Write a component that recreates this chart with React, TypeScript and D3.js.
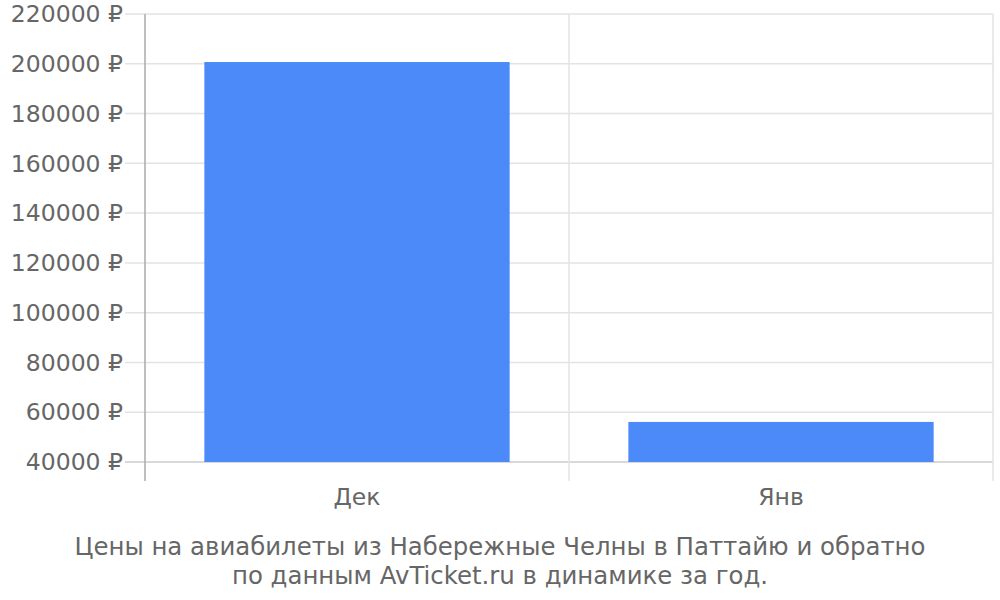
import * as d3 from "d3";
import { useEffect, useRef } from "react";

const months = ["Дек", "Янв"];
const prices = [200700, 56100];
const yTicks = [40000, 60000, 80000, 100000, 120000, 140000, 160000, 180000, 200000, 220000];
const titleLines = [
  "Цены на авиабилеты из Набережные Челны в Паттайю и обратно",
  "по данным AvTicket.ru в динамике за год.",
];

export default function App() {
  const ref = useRef<SVGSVGElement>(null);

  useEffect(() => {
    const svg = d3.select(ref.current);
    svg.selectAll("*").remove();

    const width = 1000;
    const height = 600;
    const left = 145;
    const right = 993;
    const top = 14;
    const bottom = 462;
    const font = "DejaVu Sans, sans-serif";
    const fs = 23.5;

    const x = d3.scaleBand().domain(months).range([left, right]).padding(0);
    const y = d3.scaleLinear().domain([40000, 220000]).range([bottom, top]);

    svg.attr("viewBox", `0 0 ${width} ${height}`);

    // horizontal grid
    svg
      .append("g")
      .selectAll("line")
      .data(yTicks)
      .enter()
      .append("line")
      .attr("x1", 125)
      .attr("x2", right)
      .attr("y1", (d) => y(d))
      .attr("y2", (d) => y(d))
      .attr("stroke", (d) => (d === 40000 ? "#cccccc" : "#e3e3e3"))
      .attr("stroke-width", 1.5);

    // vertical grid
    const vx = months.map((m) => (x(m) as number) + x.bandwidth());
    svg
      .append("g")
      .selectAll("line")
      .data(vx)
      .enter()
      .append("line")
      .attr("x1", (d) => d)
      .attr("x2", (d) => d)
      .attr("y1", top)
      .attr("y2", 481)
      .attr("stroke", "#e3e3e3")
      .attr("stroke-width", 1.5);

    // bars
    const bw = x.bandwidth() * 0.72;
    svg
      .append("g")
      .selectAll("rect")
      .data(months)
      .enter()
      .append("rect")
      .attr("x", (d) => (x(d) as number) + (x.bandwidth() - bw) / 2)
      .attr("width", bw)
      .attr("y", (d, i) => y(prices[i]))
      .attr("height", (d, i) => bottom - y(prices[i]))
      .attr("fill", "#4c89f9");

    // left axis line
    svg
      .append("line")
      .attr("x1", left)
      .attr("x2", left)
      .attr("y1", top)
      .attr("y2", 481)
      .attr("stroke", "#aaaaaa")
      .attr("stroke-width", 1.5);

    // y labels
    svg
      .append("g")
      .selectAll("text")
      .data(yTicks)
      .enter()
      .append("text")
      .attr("x", 123)
      .attr("y", (d) => y(d))
      .attr("dy", "0.35em")
      .attr("text-anchor", "end")
      .attr("font-family", font)
      .attr("font-size", fs)
      .attr("fill", "#666666")
      .text((d) => `${d} ₽`);

    // x labels
    svg
      .append("g")
      .selectAll("text")
      .data(months)
      .enter()
      .append("text")
      .attr("x", (d) => (x(d) as number) + x.bandwidth() / 2)
      .attr("y", 505)
      .attr("text-anchor", "middle")
      .attr("font-family", font)
      .attr("font-size", fs)
      .attr("fill", "#666666")
      .text((d) => d);

    // title
    svg
      .append("g")
      .selectAll("text")
      .data(titleLines)
      .enter()
      .append("text")
      .attr("x", 500)
      .attr("y", (d, i) => 555 + i * 29)
      .attr("text-anchor", "middle")
      .attr("font-family", font)
      .attr("font-size", 24.4)
      .attr("fill", "#666666")
      .text((d) => d);
  }, []);

  return (
    <svg
      ref={ref}
      width={1000}
      height={600}
      style={{ position: "absolute", left: 0, top: 0, display: "block" }}
    />
  );
}
